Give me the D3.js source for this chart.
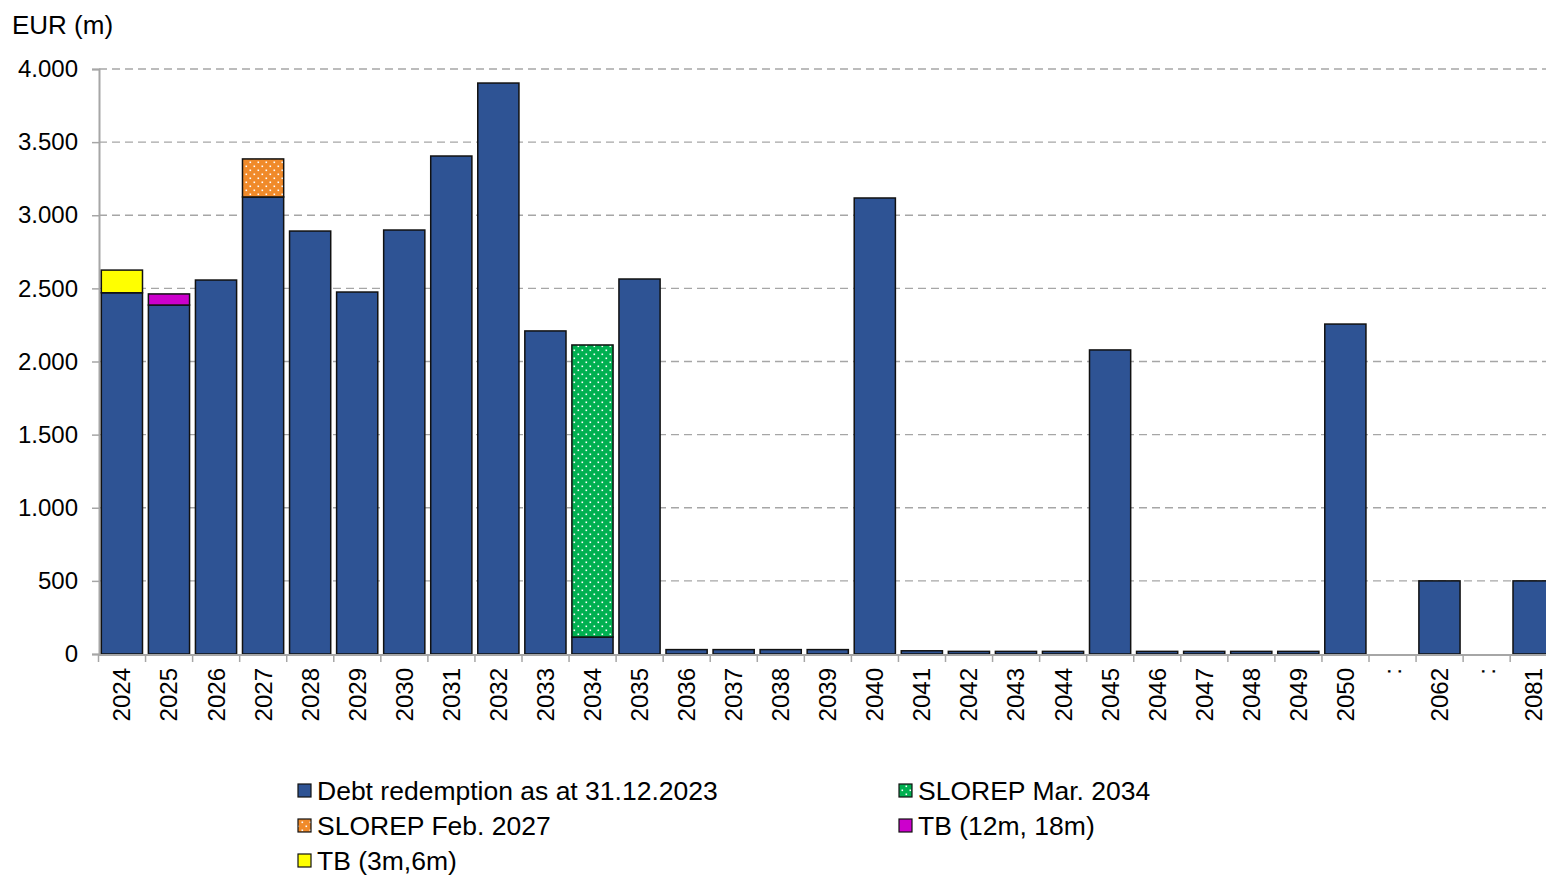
<!DOCTYPE html>
<html><head><meta charset="utf-8">
<script src="https://cdn.jsdelivr.net/npm/d3@7"></script>
<style>body{margin:0;background:#fff;} svg{display:block;font-family:"Liberation Sans",Arial,sans-serif;}</style>
</head><body>
<script>
const categories = ["2024","2025","2026","2027","2028","2029","2030","2031","2032","2033","2034","2035","2036","2037","2038","2039","2040","2041","2042","2043","2044","2045","2046","2047","2048","2049","2050",":","2062",":","2081"];
const debt      = [2470,2386,2557,3125,2892,2475,2899,3405,3904,2209,116,2564,30,30,30,30,3118,22,18,18,18,2079,18,18,18,18,2256,0,500,0,500];
const slorep2034= [0,0,0,0,0,0,0,0,0,0,1997,0,0,0,0,0,0,0,0,0,0,0,0,0,0,0,0,0,0,0,0];
const slorep2027= [0,0,0,260,0,0,0,0,0,0,0,0,0,0,0,0,0,0,0,0,0,0,0,0,0,0,0,0,0,0,0];
const tb12      = [0,76,0,0,0,0,0,0,0,0,0,0,0,0,0,0,0,0,0,0,0,0,0,0,0,0,0,0,0,0,0];
const tb3       = [155,0,0,0,0,0,0,0,0,0,0,0,0,0,0,0,0,0,0,0,0,0,0,0,0,0,0,0,0,0,0];
const seriesNames = ["Debt redemption as at 31.12.2023","SLOREP Mar. 2034","SLOREP Feb. 2027","TB (12m, 18m)","TB (3m,6m)"];
const yTicks = [0,500,1000,1500,2000,2500,3000,3500,4000];
const yTickLabels = ["0","500","1.000","1.500","2.000","2.500","3.000","3.500","4.000"];
const yLabel = "EUR (m)";

const W=1546,H=876;
const FONT='"Liberation Sans",Arial,sans-serif';
const svg=d3.select("body").append("svg").attr("width",W).attr("height",H);
const defs=svg.append("defs");
function dots(id,color){
  const p=defs.append("pattern").attr("id",id).attr("patternUnits","userSpaceOnUse").attr("width",8).attr("height",8);
  p.append("rect").attr("width",8).attr("height",8).attr("fill",color);
  p.append("rect").attr("x",1.5).attr("y",1.5).attr("width",1.6).attr("height",1.6).attr("fill","#fff");
  p.append("rect").attr("x",5.5).attr("y",5.5).attr("width",1.6).attr("height",1.6).attr("fill","#fff");
}
dots("pGreen","#00B050");
dots("pOrange","#F08A2A");
const fills=["#2E5394","url(#pGreen)","url(#pOrange)","#CC00CC","#FFFF00"];

const keys=categories.map((c,i)=>i);
const x=d3.scaleBand().domain(keys).range([98.5,1557]).paddingInner(0.125).paddingOuter(0.06);
const y=d3.scaleLinear().domain([0,4000]).range([654,69]);

// grid
svg.append("g").selectAll("line").data(yTicks.filter(t=>t>0)).join("line")
  .attr("x1",99).attr("x2",W).attr("y1",d=>y(d)).attr("y2",d=>y(d))
  .attr("stroke","#a6a6a6").attr("stroke-width",1.3).attr("stroke-dasharray","8,5");

// y axis
const ya=svg.append("g").attr("transform","translate(99,0)")
  .call(d3.axisLeft(y).tickValues(yTicks).tickFormat((d,i)=>yTickLabels[i]).tickSize(7).tickPadding(14));
ya.select(".domain").attr("stroke","#a6a6a6").attr("stroke-width",2);
ya.selectAll(".tick line").attr("stroke","#a6a6a6").attr("stroke-width",1.5);
ya.selectAll("text").attr("font-size",24).attr("fill","#000").attr("font-family",FONT);

// stacked bars
const data=keys.map(i=>({i,v:[debt[i],slorep2034[i],slorep2027[i],tb12[i],tb3[i]]}));
const stack=d3.stack().keys([0,1,2,3,4]).value((d,k)=>d.v[k]);
const layers=stack(data);
layers.forEach((layer,k)=>{
  svg.append("g").selectAll("rect").data(layer.filter(s=>s[1]-s[0]>0)).join("rect")
    .attr("x",s=>x(s.data.i)).attr("width",x.bandwidth())
    .attr("y",s=>y(s[1])).attr("height",s=>y(s[0])-y(s[1]))
    .attr("fill",fills[k]).attr("stroke","#111").attr("stroke-width",1.5);
});

// x axis
const step=x.step();
const bounds=d3.range(categories.length+1).map(i=>98.5+i*step);
svg.append("line").attr("x1",99).attr("x2",W).attr("y1",655).attr("y2",655).attr("stroke","#a6a6a6").attr("stroke-width",2);
svg.append("g").selectAll("line").data(bounds).join("line")
  .attr("x1",d=>d).attr("x2",d=>d).attr("y1",655).attr("y2",662).attr("stroke","#a6a6a6").attr("stroke-width",1.5);
svg.append("g").selectAll("text").data(keys).join("text")
  .attr("transform",i=>`translate(${x(i)+x.bandwidth()/2+8.5},668) rotate(-90)`)
  .attr("text-anchor","end").attr("font-size",24).text(i=>categories[i]);

svg.append("text").attr("x",12).attr("y",34).attr("font-size",26).text(yLabel);

// legend
const legPos=[[297,791],[898,791],[297,826],[898,826],[297,861]];
const legOrder=[0,1,2,3,4];
legOrder.forEach((k,j)=>{
  const [lx,ly]=legPos[j];
  svg.append("rect").attr("x",lx+1).attr("y",ly-7).attr("width",13).attr("height",13)
    .attr("fill",fills[k]).attr("stroke","#111").attr("stroke-width",1.2);
  svg.append("text").attr("x",lx+20).attr("y",ly+9).attr("font-size",26.5).text(seriesNames[k]);
});
</script>
</body></html>
